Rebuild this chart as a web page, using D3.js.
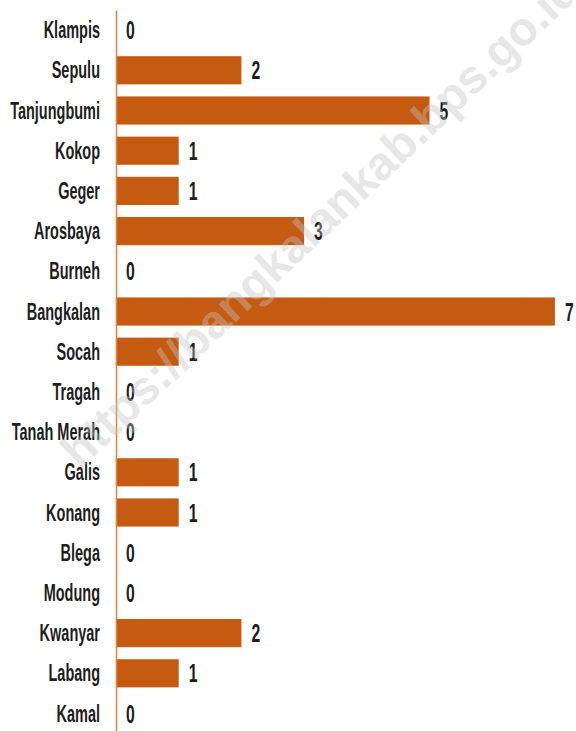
<html>
<head>
    <style>
        body { margin: 0; background: white; }
        .lbl text { font-family: "Liberation Sans", Arial, sans-serif; font-weight: bold; fill: #1e1e1e; }
    </style>
    <script src="https://cdn.jsdelivr.net/npm/d3@7"></script>
</head>
<body>
<div class="mainView"></div>
<script>
    // data
    let districts = ["Klampis", "Sepulu", "Tanjungbumi", "Kokop", "Geger", "Arosbaya", "Burneh",
        "Bangkalan", "Socah", "Tragah", "Tanah Merah", "Galis", "Konang", "Blega", "Modung",
        "Kwanyar", "Labang", "Kamal"];
    let counts = [0, 2, 5, 1, 1, 3, 0, 7, 1, 0, 0, 1, 1, 0, 0, 2, 1, 0];
    let watermark = "https://bangkalankab.bps.go.id";

    let width = 576, height = 731;
    let axisX = 116;
    let sx = 0.63; // squeeze text horizontally, the original font is condensed

    let svg = d3.select(".mainView").append("svg")
        .attr("width", width)
        .attr("height", height);

    let data = districts.map((d, i) => ({ name: d, value: counts[i] }));

    let xScale = d3.scaleLinear()
        .domain([0, 7])
        .range([axisX, axisX + 7 * 62.7]);

    let yScale = d3.scaleBand()
        .domain(districts)
        .range([10, 10 + 18 * 40.2])
        .paddingInner(0.3)
        .paddingOuter(0.15);

    // bars
    svg.append("g").selectAll("rect")
        .data(data)
        .enter()
        .append("rect")
        .attr("x", xScale(0))
        .attr("y", d => yScale(d.name))
        .attr("width", d => xScale(d.value) - xScale(0))
        .attr("height", yScale.bandwidth())
        .attr("fill", "#c55a11");

    // category axis
    let yAxis = d3.axisLeft(yScale).tickSize(0).tickPadding(16 / sx);
    let axisG = svg.append("g")
        .attr("class", "lbl")
        .attr("transform", "translate(" + axisX + ",0)")
        .call(yAxis);
    axisG.select(".domain").attr("stroke", "#ed7d31").attr("stroke-width", 1.5);
    axisG.selectAll(".tick text")
        .style("font-size", "23px")
        .attr("dy", "0.35em")
        .attr("transform", "scale(" + sx + ",1)");

    // value labels
    svg.append("g").attr("class", "lbl").selectAll("text")
        .data(data)
        .enter()
        .append("text")
        .attr("transform", d => "translate(" + (xScale(d.value) + 10) + "," + (yScale(d.name) + yScale.bandwidth() / 2) + ") scale(" + sx + ",1)")
        .attr("dy", "0.36em")
        .style("font-size", "25px")
        .text(d => d.value);

    // watermark
    svg.append("text")
        .attr("transform", "translate(80,470) rotate(-43.5)")
        .style("font-family", "Liberation Sans, Arial, sans-serif")
        .style("font-weight", "bold")
        .style("font-size", "47px")
        .attr("fill", "#c4c4c4")
        .attr("opacity", 0.4)
        .text(watermark);
</script>
</body>
</html>
